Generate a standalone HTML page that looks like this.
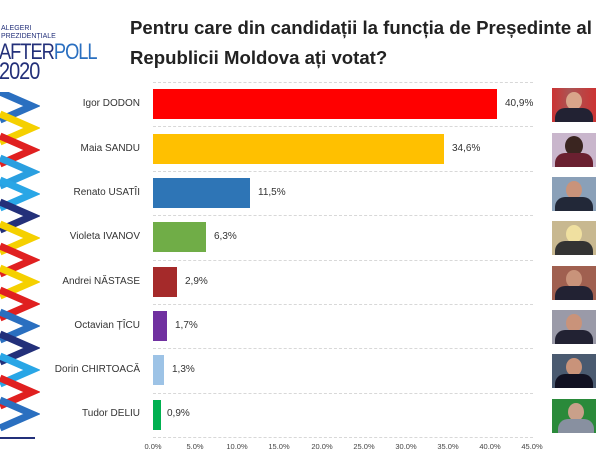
<!DOCTYPE html>
<html><head><meta charset="utf-8"><style>
body{margin:0;width:600px;height:450px;background:#fff;overflow:hidden;font-family:"Liberation Sans",sans-serif;position:relative}
.t{position:absolute;left:130px;font-weight:bold;font-size:18.6px;color:#222;white-space:nowrap}
.lbl{position:absolute;right:460px;font-size:10px;color:#333;white-space:nowrap}
.bar{position:absolute;left:153px;height:30px}
.val{position:absolute;font-size:10px;color:#333}
.grid{position:absolute;left:153px;width:380px;border-top:1px dashed #d8d8d8}
.tick{position:absolute;top:442px;font-size:7.5px;color:#444;width:30px;text-align:center}
.ph{position:absolute;left:552px;width:44px;height:34px;overflow:hidden}
</style></head><body>
<div style="position:absolute;left:1px;top:25px;font-size:7px;color:#23307a;line-height:8px">ALEGERI<br>PREZIDENȚIALE</div>
<div style="position:absolute;left:-1px;top:42px;font-size:22px;color:#23307a;line-height:20px;letter-spacing:-1.2px;transform:scaleX(0.83);transform-origin:left">AFTER<span style="color:#2a6fc0">POLL</span><br><span style="font-size:24px">2020</span></div>
<svg style="position:absolute;left:0;top:92px" width="40" height="350">
<g fill="none" stroke-width="7">
<polyline points="0,0 32,14 0,28" stroke="#2a6fc0"/>
<polyline points="0,22 32,36 0,50" stroke="#f5d000"/>
<polyline points="0,44 32,58 0,72" stroke="#e02020"/>
<polyline points="0,66 32,80 0,94" stroke="#2a9fe0"/>
<polyline points="0,88 32,102 0,116" stroke="#29a6e6"/>
<polyline points="0,110 32,124 0,138" stroke="#23307a"/>
<polyline points="0,132 32,146 0,160" stroke="#f5d000"/>
<polyline points="0,154 32,168 0,182" stroke="#e02020"/>
<polyline points="0,176 32,190 0,204" stroke="#f5d000"/>
<polyline points="0,198 32,212 0,226" stroke="#e02020"/>
<polyline points="0,220 32,234 0,248" stroke="#2a6fc0"/>
<polyline points="0,242 32,256 0,270" stroke="#23307a"/>
<polyline points="0,264 32,278 0,292" stroke="#29a6e6"/>
<polyline points="0,286 32,300 0,314" stroke="#e02020"/>
<polyline points="0,308 32,322 0,336" stroke="#2a6fc0"/>
</g><line x1="0" y1="346" x2="35" y2="346" stroke="#23307a" stroke-width="2"/></svg>
<div class="t" style="top:17px">Pentru care din candidații la funcția de Președinte al</div>
<div class="t" style="top:47px">Republicii Moldova ați votat?</div>
<div class="grid" style="top:82px"></div><div class="grid" style="top:126px"></div><div class="grid" style="top:171px"></div><div class="grid" style="top:215px"></div><div class="grid" style="top:260px"></div><div class="grid" style="top:304px"></div><div class="grid" style="top:348px"></div><div class="grid" style="top:393px"></div><div class="grid" style="top:437px"></div>
<div class="lbl" style="top:98px">Igor DODON</div><div class="bar" style="top:89px;width:344px;background:#ff0000"></div><div class="val" style="top:98px;left:505px">40,9%</div>
<div class="lbl" style="top:143px">Maia SANDU</div><div class="bar" style="top:134px;width:291px;background:#ffc000"></div><div class="val" style="top:143px;left:452px">34,6%</div>
<div class="lbl" style="top:187px">Renato USATÎI</div><div class="bar" style="top:178px;width:97px;background:#2e75b6"></div><div class="val" style="top:187px;left:258px">11,5%</div>
<div class="lbl" style="top:231px">Violeta IVANOV</div><div class="bar" style="top:222px;width:53px;background:#70ad47"></div><div class="val" style="top:231px;left:214px">6,3%</div>
<div class="lbl" style="top:276px">Andrei NĂSTASE</div><div class="bar" style="top:267px;width:24px;background:#a52a2a"></div><div class="val" style="top:276px;left:185px">2,9%</div>
<div class="lbl" style="top:320px">Octavian ȚÎCU</div><div class="bar" style="top:311px;width:14px;background:#7030a0"></div><div class="val" style="top:320px;left:175px">1,7%</div>
<div class="lbl" style="top:364px">Dorin CHIRTOACĂ</div><div class="bar" style="top:355px;width:11px;background:#9dc3e6"></div><div class="val" style="top:364px;left:172px">1,3%</div>
<div class="lbl" style="top:408px">Tudor DELIU</div><div class="bar" style="top:400px;width:8px;background:#00b050"></div><div class="val" style="top:408px;left:167px">0,9%</div>
<div class="tick" style="left:138px">0.0%</div><div class="tick" style="left:180px">5.0%</div><div class="tick" style="left:222px">10.0%</div><div class="tick" style="left:264px">15.0%</div><div class="tick" style="left:307px">20.0%</div><div class="tick" style="left:349px">25.0%</div><div class="tick" style="left:391px">30.0%</div><div class="tick" style="left:433px">35.0%</div><div class="tick" style="left:475px">40.0%</div><div class="tick" style="left:517px">45.0%</div>
<div class="ph" style="top:88px;background:linear-gradient(90deg,#c33,#a55 40%,#c33)"><div style="position:absolute;left:14px;top:4px;width:16px;height:18px;border-radius:50%;background:#d9a58a"></div><div style="position:absolute;left:3px;top:20px;width:38px;height:20px;border-radius:10px 10px 0 0;background:#223"></div></div>
<div class="ph" style="top:133px;background:#c9b6cc"><div style="position:absolute;left:13px;top:3px;width:18px;height:20px;border-radius:50%;background:#3a2520"></div><div style="position:absolute;left:3px;top:20px;width:38px;height:20px;border-radius:10px 10px 0 0;background:#6a2030"></div></div>
<div class="ph" style="top:177px;background:#8aa0b8"><div style="position:absolute;left:14px;top:4px;width:16px;height:18px;border-radius:50%;background:#c9937a"></div><div style="position:absolute;left:3px;top:20px;width:38px;height:20px;border-radius:10px 10px 0 0;background:#222838"></div></div>
<div class="ph" style="top:221px;background:#c8b890"><div style="position:absolute;left:14px;top:4px;width:16px;height:18px;border-radius:50%;background:#f0e0a0"></div><div style="position:absolute;left:3px;top:20px;width:38px;height:20px;border-radius:10px 10px 0 0;background:#333"></div></div>
<div class="ph" style="top:266px;background:#a06050"><div style="position:absolute;left:14px;top:4px;width:16px;height:18px;border-radius:50%;background:#c9937a"></div><div style="position:absolute;left:3px;top:20px;width:38px;height:20px;border-radius:10px 10px 0 0;background:#223"></div></div>
<div class="ph" style="top:310px;background:#9a9aa8"><div style="position:absolute;left:14px;top:4px;width:16px;height:18px;border-radius:50%;background:#c9937a"></div><div style="position:absolute;left:3px;top:20px;width:38px;height:20px;border-radius:10px 10px 0 0;background:#223"></div></div>
<div class="ph" style="top:354px;background:#4a5a70"><div style="position:absolute;left:14px;top:4px;width:16px;height:18px;border-radius:50%;background:#c9937a"></div><div style="position:absolute;left:3px;top:20px;width:38px;height:20px;border-radius:10px 10px 0 0;background:#112"></div></div>
<div class="ph" style="top:399px;background:#2a8a3a"><div style="position:absolute;left:16px;top:4px;width:16px;height:18px;border-radius:50%;background:#c9a08a"></div><div style="position:absolute;left:6px;top:20px;width:36px;height:20px;border-radius:10px 10px 0 0;background:#8890a0"></div></div>
</body></html>
